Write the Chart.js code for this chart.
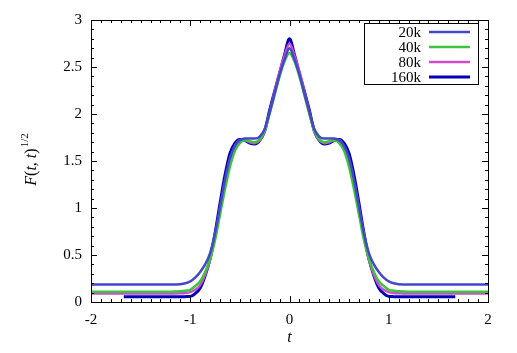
<!DOCTYPE html>
<html>
<head>
<meta charset="utf-8">
<script src="https://cdn.jsdelivr.net/npm/chart.js@4"></script>
<style>
  html, body { margin: 0; padding: 0; background: #fff; }
  #wrap { width: 517px; height: 353px; }
</style>
</head>
<body>
<div id="wrap"><canvas id="corr"></canvas></div>
<script>
// time grid (t) shared by all series
const tVals = [-2, -1.8, -1.67, -1.4, -1.2, -1.1, -1.05, -1.0, -0.95, -0.9, -0.85, -0.8, -0.75, -0.7, -0.65, -0.6,
  -0.55, -0.5, -0.45, -0.4, -0.35, -0.3, -0.25, -0.2, -0.15, -0.1, -0.05, 0,
  0.05, 0.1, 0.15, 0.2, 0.25, 0.3, 0.35, 0.4, 0.45, 0.5, 0.55, 0.6, 0.65, 0.7, 0.75, 0.8,
  0.85, 0.9, 0.95, 1.0, 1.05, 1.1, 1.2, 1.4, 1.67, 1.8, 2];

const labels = ['20k', '40k', '80k', '160k'];
const colors = ['#4646c8', '#3cc43c', '#cc4ccc', '#0000b8'];
const widths = [2.5, 2.5, 2.5, 3];

const f20k = [0.185, 0.185, 0.185, 0.185, 0.185, 0.19, 0.20, 0.22, 0.26, 0.32, 0.40, 0.52, 0.73, 1.01, 1.30, 1.53,
  1.66, 1.72, 1.74, 1.74, 1.74, 1.76, 1.84, 2.02, 2.22, 2.42, 2.58, 2.70,
  2.58, 2.42, 2.22, 2.02, 1.84, 1.76, 1.74, 1.74, 1.74, 1.72, 1.66, 1.53, 1.30, 1.01, 0.73, 0.52,
  0.40, 0.32, 0.26, 0.22, 0.20, 0.19, 0.185, 0.185, 0.185, 0.185, 0.185];

const f40k = [0.11, 0.11, 0.11, 0.11, 0.11, 0.115, 0.12, 0.13, 0.17, 0.22, 0.32, 0.46, 0.66, 0.93, 1.20, 1.44,
  1.61, 1.69, 1.72, 1.71, 1.70, 1.73, 1.82, 2.00, 2.20, 2.40, 2.56, 2.65,
  2.56, 2.40, 2.20, 2.00, 1.82, 1.73, 1.70, 1.71, 1.72, 1.69, 1.61, 1.44, 1.20, 0.93, 0.66, 0.46,
  0.32, 0.22, 0.17, 0.13, 0.12, 0.115, 0.11, 0.11, 0.11, 0.11, 0.11];

const f80k = [0.09, 0.09, 0.09, 0.09, 0.09, 0.092, 0.095, 0.105, 0.13, 0.18, 0.29, 0.45, 0.69, 0.99, 1.27, 1.50,
  1.65, 1.72, 1.72, 1.70, 1.69, 1.72, 1.82, 2.02, 2.24, 2.45, 2.62, 2.75,
  2.62, 2.45, 2.24, 2.02, 1.82, 1.72, 1.69, 1.70, 1.72, 1.72, 1.65, 1.50, 1.27, 0.99, 0.69, 0.45,
  0.29, 0.18, 0.13, 0.105, 0.095, 0.092, 0.09, 0.09, 0.09, 0.09, 0.09];

// 160k run only covers |t| < 1.67
const f160k = [null, null, 0.055, 0.055, 0.055, 0.055, 0.057, 0.06, 0.09, 0.15, 0.28, 0.46, 0.73, 1.05, 1.35, 1.58,
  1.69, 1.73, 1.72, 1.69, 1.68, 1.72, 1.82, 2.04, 2.24, 2.43, 2.63, 2.80,
  2.63, 2.43, 2.24, 2.04, 1.82, 1.72, 1.68, 1.69, 1.72, 1.73, 1.69, 1.58, 1.35, 1.05, 0.73, 0.46,
  0.28, 0.15, 0.09, 0.06, 0.057, 0.055, 0.055, 0.055, 0.055, null, null];

const series = [f20k, f40k, f80k, f160k];

const serif = "'Liberation Serif', 'Times New Roman', Times, serif";
Chart.defaults.font.family = serif;

function toPoints(vals) {
  const pts = [];
  vals.forEach((v, i) => { if (v !== null) pts.push({ x: tVals[i], y: v }); });
  return pts;
}

// frame, inward ticks, legend and y title (gnuplot look)
const gnuplotDeco = {
  id: 'gnuplotDeco',
  afterDraw(chart) {
    const ctx = chart.ctx;
    const a = chart.chartArea;
    const xs = chart.scales.x, ys = chart.scales.y;
    ctx.save();
    ctx.strokeStyle = '#000';
    ctx.lineWidth = 1;
    ctx.strokeRect(a.left + 0.5, a.top + 0.5, a.right - a.left, a.bottom - a.top);

    ctx.beginPath();
    for (let i = 0; i <= 40; i++) {
      const px = Math.round(xs.getPixelForValue(-2 + i * 0.1)) + 0.5;
      const len = i % 10 === 0 ? 6 : 3;
      ctx.moveTo(px, a.bottom); ctx.lineTo(px, a.bottom - len);
      ctx.moveTo(px, a.top); ctx.lineTo(px, a.top + len);
    }
    for (let i = 0; i <= 30; i++) {
      const py = Math.round(ys.getPixelForValue(i * 0.1)) + 0.5;
      const len = i % 5 === 0 ? 6 : 3;
      ctx.moveTo(a.left, py); ctx.lineTo(a.left + len, py);
      ctx.moveTo(a.right, py); ctx.lineTo(a.right - len, py);
    }
    ctx.stroke();

    // legend box
    const bx = 364, by = 23, bw = 114, bh = 61;
    ctx.fillStyle = '#fff';
    ctx.fillRect(bx, by, bw, bh);
    ctx.strokeRect(bx + 0.5, by + 0.5, bw, bh);
    ctx.font = '15px ' + serif;
    ctx.textAlign = 'right';
    ctx.textBaseline = 'middle';
    chart.data.datasets.forEach((ds, i) => {
      const y = 32 + i * 15;
      ctx.fillStyle = '#000';
      ctx.fillText(ds.label, 421, y + 1);
      ctx.strokeStyle = ds.borderColor;
      ctx.lineWidth = ds.borderWidth;
      ctx.beginPath();
      ctx.moveTo(429, y); ctx.lineTo(470, y);
      ctx.stroke();
    });

    // y axis title F(t,t)^{1/2}
    ctx.fillStyle = '#000';
    ctx.translate(32, 160);
    ctx.rotate(-Math.PI / 2);
    ctx.textAlign = 'left';
    ctx.textBaseline = 'middle';
    const parts = [['italic 16px ', 'F'], ['16px ', '('], ['italic 16px ', 't'], ['16px ', ', '],
      ['italic 16px ', 't'], ['16px ', ')']];
    let total = 0;
    parts.forEach(p => { ctx.font = p[0] + serif; total += ctx.measureText(p[1]).width; });
    ctx.font = '11px ' + serif;
    total += ctx.measureText('1/2').width;
    let x = -total / 2;
    parts.forEach(p => {
      ctx.font = p[0] + serif;
      ctx.fillText(p[1], x, 0);
      x += ctx.measureText(p[1]).width;
    });
    ctx.font = '11px ' + serif;
    ctx.fillText('1/2', x + 1, -7);
    ctx.restore();

    // x axis title
    ctx.save();
    ctx.fillStyle = '#000';
    ctx.font = 'italic 16px ' + serif;
    ctx.textAlign = 'center';
    ctx.textBaseline = 'middle';
    ctx.fillText('t', (a.left + a.right) / 2, 338);
    ctx.restore();
  }
};

new Chart(document.getElementById('corr'), {
  type: 'line',
  data: {
    datasets: series.map((vals, i) => ({
      label: labels[i],
      data: toPoints(vals),
      borderColor: colors[i],
      borderWidth: widths[i],
      pointRadius: 0,
      fill: false,
      cubicInterpolationMode: 'monotone'
    }))
  },
  options: {
    responsive: true,
    maintainAspectRatio: false,
    animation: false,
    layout: { padding: { left: 0, right: 29, top: 20, bottom: 0 } },
    plugins: {
      legend: { display: false },
      tooltip: { enabled: false }
    },
    scales: {
      x: {
        type: 'linear',
        min: -2, max: 2,
        grid: { display: false, drawTicks: false },
        border: { display: false },
        ticks: { stepSize: 1, padding: 9, color: '#000', font: { family: serif, size: 15 },
          callback: v => String(v) },
        afterFit(scale) { scale.height = 51; }
      },
      y: {
        min: 0, max: 3,
        grid: { display: false, drawTicks: false },
        border: { display: false },
        ticks: { stepSize: 0.5, padding: 9, color: '#000', font: { family: serif, size: 15 },
          callback: v => String(v) },
        afterFit(scale) { scale.width = 91; }
      }
    }
  },
  plugins: [gnuplotDeco]
});
</script>
</body>
</html>
